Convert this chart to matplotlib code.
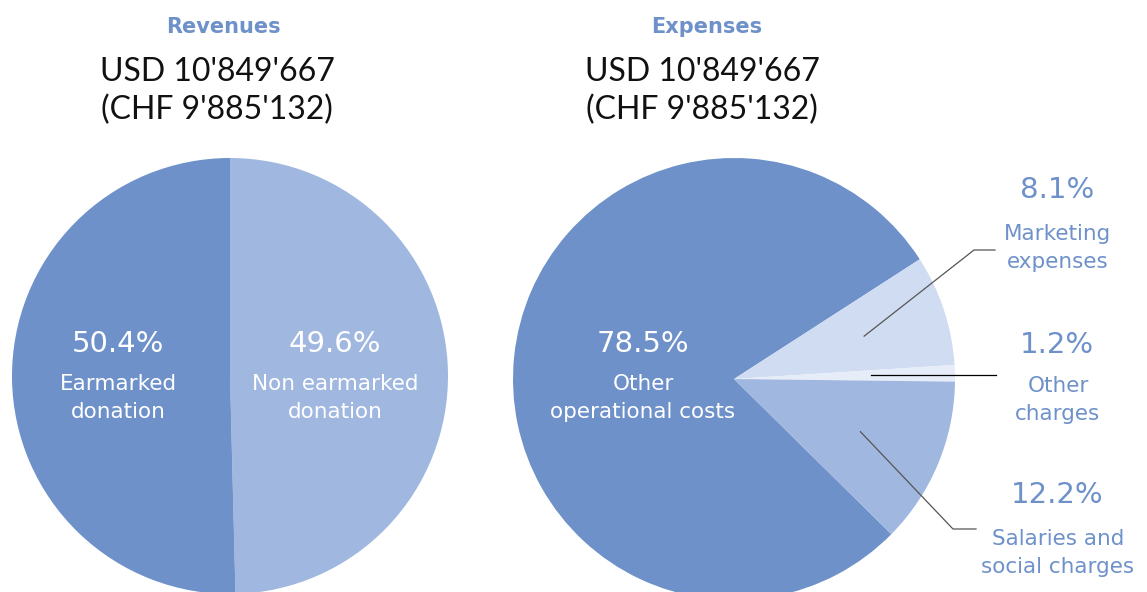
import numpy as np
import matplotlib.pyplot as plt

plt.rcParams['font.family'] = ['DejaVu Sans']

# data
rev_labels = ["Non earmarked\ndonation", "Earmarked\ndonation"]
rev_values = [49.6, 50.4]
exp_labels = ["Other\noperational costs", "Marketing\nexpenses", "Other\ncharges",
              "Salaries and\nsocial charges"]
exp_values = [78.5, 8.1, 1.2, 12.2]
total_usd = "USD 10'849'667"
total_chf = "(CHF 9'885'132)"

dark = "#6E91CA"
light = "#A0B7E0"
lighter = "#CFDCF1"
palest = "#E6EDF8"

W, H = 1147, 592
fig = plt.figure(figsize=(W / 100, H / 100), dpi=100)
ax = fig.add_axes([0, 0, 1, 1])

def py(y):
    return H - y

# revenues pie
c1 = (230, py(376))
ax.pie(rev_values, colors=[light, dark], startangle=90, counterclock=False,
       center=c1, radius=218, wedgeprops=dict(linewidth=0))

# expenses pie
c2 = (734, py(379))
exp_start = 32.8 + 3.6 * exp_values[0]
w2, _ = ax.pie(exp_values, colors=[dark, lighter, palest, light], startangle=exp_start,
               counterclock=False, center=c2, radius=221, wedgeprops=dict(linewidth=0))

ax.set_xlim(0, W)
ax.set_ylim(0, H)
ax.set_aspect('equal')
ax.axis('off')

# titles
for cx, title in [(223, "Revenues"), (707, "Expenses")]:
    ax.text(cx, py(27), title, ha='center', va='center', fontsize=15,
            fontweight='bold', color=dark)
for cx in [217, 702]:
    ax.text(cx, py(72), total_usd, ha='center', va='center', fontsize=23,
            color='#111111', family='Lato')
    ax.text(cx, py(110), total_chf, ha='center', va='center', fontsize=23,
            color='#111111', family='Lato')

# inner labels
inner = [(118, rev_values[1], rev_labels[1]), (335, rev_values[0], rev_labels[0]),
         (643, exp_values[0], exp_labels[0])]
for x, v, lab in inner:
    ax.text(x, py(344), f"{v:.1f}%", ha='center', va='center', fontsize=21, color='white')
    ax.text(x, py(398), lab, ha='center', va='center', fontsize=15.5, color='white',
            linespacing=1.5)

# outside labels with leader lines
outside = [
    (1, 190, 248, [(974, 250), (995, 250)], '#555555'),
    (2, 345, 400, [(996, None)], '#000000'),
    (3, 495, 553, [(953, 529), (976, 529)], '#555555'),
]
for i, ypct, ylab, pts, lc in outside:
    w = w2[i]
    mid = np.deg2rad((w.theta1 + w.theta2) / 2)
    ax0 = c2[0] + 0.62 * 221 * np.cos(mid)
    ay0 = c2[1] + 0.62 * 221 * np.sin(mid)
    xs = [ax0] + [p[0] for p in pts]
    ys = [ay0] + [ay0 if p[1] is None else py(p[1]) for p in pts]
    ax.plot(xs, ys, color=lc, lw=0.9)
    ax.text(1057, py(ypct), f"{exp_values[i]:.1f}%", ha='center', va='center',
            fontsize=21, color=dark)
    ax.text(1058, py(ylab), exp_labels[i], ha='center', va='center', fontsize=15.5,
            color=dark, linespacing=1.5)

fig.savefig("out.png", dpi=100)
